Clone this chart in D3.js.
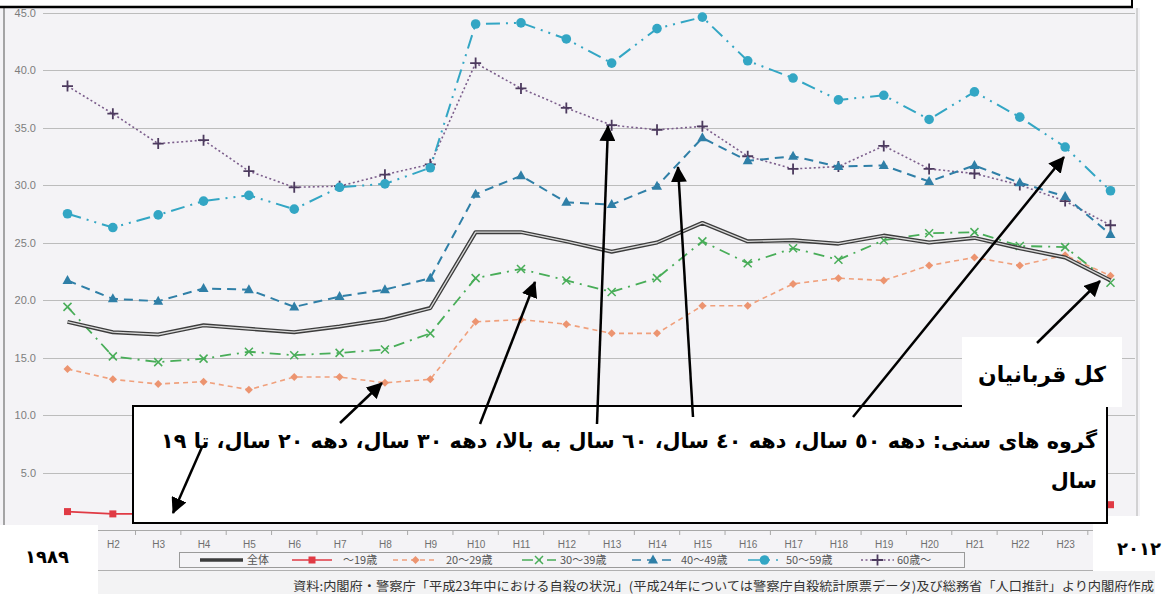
<!DOCTYPE html>
<html><head><meta charset="utf-8">
<script src="https://cdn.jsdelivr.net/npm/d3@7"></script>
<style>body{margin:0;background:#fff;} svg{display:block}</style>
</head><body>
<svg id="c" width="1163" height="594"></svg>
<script>
// ---------- data ----------
const categories = ["H1","H2","H3","H4","H5","H6","H7","H8","H9","H10","H11","H12","H13","H14","H15","H16","H17","H18","H19","H20","H21","H22","H23","H24"];
const xTickLabels = ["H2","H3","H4","H5","H6","H7","H8","H9","H10","H11","H12","H13","H14","H15","H16","H17","H18","H19","H20","H21","H22","H23"];
const yTicks = [0,5,10,15,20,25,30,35,40,45];
const total   = [18.1,17.2,17.0,17.8,17.5,17.2,17.7,18.3,19.3,25.9,25.9,25.1,24.2,25.0,26.7,25.1,25.2,24.9,25.6,25.0,25.4,24.5,23.7,21.7];
const under19 = [1.6,1.4,1.4,1.5,1.4,1.5,1.5,1.6,1.7,2.2,1.9,1.8,1.7,1.8,2.0,1.8,1.9,1.9,1.9,2.0,2.0,2.1,2.1,2.2];
const age20s  = [14.0,13.1,12.7,12.9,12.2,13.3,13.3,12.8,13.1,18.1,18.3,17.9,17.1,17.1,19.5,19.5,21.4,21.9,21.7,23.0,23.7,23.0,23.9,22.1];
const age30s  = [19.4,15.1,14.6,14.9,15.5,15.2,15.4,15.7,17.1,21.9,22.7,21.7,20.7,21.9,25.1,23.2,24.5,23.5,25.2,25.8,25.9,24.7,24.6,21.5];
const age40s  = [21.7,20.1,19.9,21.0,20.9,19.4,20.3,20.9,21.9,29.2,30.8,28.5,28.3,29.9,34.1,32.1,32.5,31.6,31.7,30.3,31.7,30.2,29.0,25.7];
const age50s  = [27.5,26.3,27.4,28.6,29.1,27.9,29.8,30.1,31.5,44.0,44.1,42.7,40.6,43.6,44.6,40.8,39.3,37.4,37.8,35.7,38.1,35.9,33.3,29.5];
const age60p  = [38.6,36.2,33.6,33.9,31.2,29.8,29.9,30.9,31.8,40.6,38.4,36.7,35.2,34.8,35.1,32.5,31.4,31.6,33.4,31.4,31.0,30.0,28.6,26.5];
const legendLabels = ["全体","～19歳","20～29歳","30～39歳","40～49歳","50～59歳","60歳～"];
const annotationLines = ["گروه های سنی: دهه ٥٠ سال،  دهه ٤٠ سال، ٦٠ سال به بالا، دهه ٣٠ سال،  دهه ٢٠ سال، تا ١٩","سال"];
const totalLabel = "کل قربانیان";
const startYear = "١٩٨٩";
const endYear = "٢٠١٢";
const sourceText = "資料:内閣府・警察庁「平成23年中における自殺の状況」(平成24年については警察庁自殺統計原票データ)及び総務省「人口推計」より内閣府作成";

// ---------- setup ----------
const svg = d3.select("#c");
const x = d3.scalePoint().domain(categories).range([67.5, 1110.5]);
const y = d3.scaleLinear().domain([0,45]).range([530, 12.5]);
const step = x.step();

// backgrounds
svg.append("rect").attr("x",0).attr("y",8).attr("width",1140).attr("height",563).attr("fill","#f4f3f6");
svg.append("rect").attr("x",0).attr("y",571).attr("width",1155).attr("height",23).attr("fill","#f3f3f4");

// frame lines
svg.append("line").attr("x1",4).attr("x2",4).attr("y1",8).attr("y2",594).attr("stroke","#8a8a8a").attr("stroke-width",1.5);
svg.append("line").attr("x1",1137).attr("x2",1137).attr("y1",8).attr("y2",571).attr("stroke","#b0b0b0").attr("stroke-width",1);
svg.append("line").attr("x1",4).attr("x2",1139).attr("y1",570.5).attr("y2",570.5).attr("stroke","#b0b0b0").attr("stroke-width",1);

// gridlines
svg.append("g").selectAll("line").data(yTicks.filter(d=>d>0)).join("line")
  .attr("x1",43).attr("x2",1135).attr("y1",d=>Math.round(y(d))+0.5).attr("y2",d=>Math.round(y(d))+0.5)
  .attr("stroke","#bcbcbc").attr("stroke-width",1);

// y axis labels
const yAxis = d3.axisLeft(y).tickValues(yTicks).tickFormat(d3.format(".1f")).tickSize(0).tickPadding(0);
const yg = svg.append("g").attr("transform","translate(36,0)").call(yAxis);
yg.select(".domain").remove();
yg.selectAll("text").attr("font-family","Liberation Sans, Arial, sans-serif").attr("font-size",11).attr("fill","#7d7d7d");

// x axis
const xAxis = d3.axisBottom(x).tickValues(xTickLabels).tickSize(0).tickPadding(0);
const xg = svg.append("g").attr("transform","translate(0,530.5)").call(xAxis);
xg.select(".domain").attr("stroke","#a8a8a8").attr("d","M43,0H1135");
xg.selectAll("text").attr("font-family","Liberation Sans, Arial, sans-serif").attr("font-size",10).attr("fill","#6f6f6f").attr("dy","1.7em");
// boundary ticks
svg.append("g").selectAll("line").data(categories.slice(0,-1)).join("line")
  .attr("x1",d=>x(d)+step/2).attr("x2",d=>x(d)+step/2).attr("y1",530.5).attr("y2",535)
  .attr("stroke","#a8a8a8");

// ---------- series ----------
const line = d3.line().x((d,i)=>x(categories[i])).y(d=>y(d));
const series = [
  {data: age60p, color:"#7c5e8c", mcolor:"#4c3a5e", dash:"2,2.5", w:1.6, marker:"plus"},
  {data: age50s, color:"#33a6c4", mcolor:"#33a6c4", dash:"14,6,2,6,2,6", w:2, marker:"circle"},
  {data: age40s, color:"#2f7fa7", mcolor:"#2f7fa7", dash:"9,6", w:2, marker:"triangle"},
  {data: age30s, color:"#48ad58", mcolor:"#48ad58", dash:"11,6,2,6", w:1.8, marker:"x"},
  {data: age20s, color:"#f0a07c", mcolor:"#ec9470", dash:"5,4", w:1.6, marker:"diamond"},
  {data: under19, color:"#e03a44", mcolor:"#e03a44", dash:null, w:1.6, marker:"square"}
];

function drawMarker(g, type, cx, cy, color){
  if(type==="circle") g.append("circle").attr("cx",cx).attr("cy",cy).attr("r",4.8).attr("fill",color);
  else if(type==="triangle") g.append("path").attr("d",`M${cx},${cy-5.5}L${cx+5},${cy+3.5}L${cx-5},${cy+3.5}Z`).attr("fill",color);
  else if(type==="square") g.append("rect").attr("x",cx-3.5).attr("y",cy-3.5).attr("width",7).attr("height",7).attr("fill",color);
  else if(type==="diamond") g.append("path").attr("d",`M${cx},${cy-4}L${cx+4},${cy}L${cx},${cy+4}L${cx-4},${cy}Z`).attr("fill",color);
  else if(type==="x") g.append("path").attr("d",`M${cx-4},${cy-4}L${cx+4},${cy+4}M${cx-4},${cy+4}L${cx+4},${cy-4}`).attr("stroke",color).attr("stroke-width",1.5).attr("fill","none");
  else if(type==="plus") g.append("path").attr("d",`M${cx-5.5},${cy}L${cx+5.5},${cy}M${cx},${cy-5.5}L${cx},${cy+5.5}`).attr("stroke",color).attr("stroke-width",1.8).attr("fill","none");
}

const sg = svg.append("g");
series.forEach(s=>{
  const p = sg.append("path").attr("d",line(s.data)).attr("fill","none").attr("stroke",s.color).attr("stroke-width",s.w);
  if(s.dash) p.attr("stroke-dasharray",s.dash);
  s.data.forEach((v,i)=>drawMarker(sg, s.marker, x(categories[i]), y(v), s.mcolor));
});
// total (double line)
sg.append("path").attr("d",line(total)).attr("fill","none").attr("stroke","#3c3c3c").attr("stroke-width",4).attr("stroke-linejoin","round");
sg.append("path").attr("d",line(total)).attr("fill","none").attr("stroke","#d9d9d9").attr("stroke-width",1.3).attr("stroke-linejoin","round");

// ---------- legend ----------
const lg = svg.append("g");
lg.append("rect").attr("x",179.5).attr("y",552.5).attr("width",785).attr("height",15).attr("fill","none").attr("stroke","#9a9a9a");
const legendItems = [
  {s:null, x0:200, x1:243, tx:247},
  {s:series[5], x0:292, x1:332, tx:343},
  {s:series[4], x0:393, x1:438, tx:446},
  {s:series[3], x0:522, x1:556, tx:560},
  {s:series[2], x0:632, x1:674, tx:681},
  {s:series[1], x0:748, x1:781, tx:786},
  {s:series[0], x0:861, x1:894, tx:897}
];
legendItems.forEach((it,i)=>{
  const ly = 560;
  if(!it.s){
    lg.append("line").attr("x1",it.x0).attr("x2",it.x1).attr("y1",ly).attr("y2",ly).attr("stroke","#3c3c3c").attr("stroke-width",3.5);
  } else {
    const l = lg.append("line").attr("x1",it.x0).attr("x2",it.x1).attr("y1",ly).attr("y2",ly).attr("stroke",it.s.color).attr("stroke-width",1.6);
    if(it.s.dash) l.attr("stroke-dasharray",it.s.dash);
    drawMarker(lg, it.s.marker, (it.x0+it.x1)/2, ly, it.s.mcolor);
  }
  lg.append("text").attr("x",it.tx).attr("y",ly+4).text(legendLabels[i])
    .attr("font-family","Noto Sans CJK JP, sans-serif").attr("font-size",11).attr("fill","#555");
});

// source
svg.append("text").attr("x",293).attr("y",591).text(sourceText)
  .attr("font-family","Noto Sans CJK JP, sans-serif").attr("font-size",12.5).attr("fill","#333")
  .attr("textLength",861).attr("lengthAdjust","spacingAndGlyphs");

// ---------- overlays ----------
// top black border
svg.append("rect").attr("x",0).attr("y",0).attr("width",1163).attr("height",7).attr("fill","#fff");
svg.append("line").attr("x1",0).attr("x2",1133).attr("y1",7).attr("y2",7).attr("stroke","#000").attr("stroke-width",2.5);
svg.append("line").attr("x1",1132).attr("x2",1132).attr("y1",0).attr("y2",8).attr("stroke","#000").attr("stroke-width",2);

// white boxes for years
svg.append("rect").attr("x",0).attr("y",525).attr("width",98).attr("height",69).attr("fill","#fff");
svg.append("rect").attr("x",1093).attr("y",516).attr("width",70).attr("height",55).attr("fill","#fff");
svg.append("rect").attr("x",1155).attr("y",0).attr("width",8).attr("height",594).attr("fill","#fff");
svg.append("rect").attr("x",1140).attr("y",0).attr("width",23).attr("height",571).attr("fill","#fff");

const boldFont = "DejaVu Sans, sans-serif";
svg.append("text").attr("x",47).attr("y",563).attr("text-anchor","middle").text(startYear)
  .attr("font-family",boldFont).attr("font-weight","bold").attr("font-size",18).attr("letter-spacing",2).attr("fill","#000");
svg.append("text").attr("x",1139).attr("y",555).attr("text-anchor","middle").text(endYear)
  .attr("font-family",boldFont).attr("font-weight","bold").attr("font-size",18).attr("letter-spacing",2).attr("fill","#000");

// annotation box
svg.append("rect").attr("x",133).attr("y",406).attr("width",974).attr("height",117)
  .attr("fill","#fff").attr("stroke","#000").attr("stroke-width",2);
// total label box
svg.append("rect").attr("x",962).attr("y",337).attr("width",160).attr("height",70).attr("fill","#fff");

const t1 = svg.append("text").attr("x",1097).attr("y",448).attr("direction","rtl").attr("text-anchor","start")
  .style("direction","rtl").text(annotationLines[0])
  .attr("font-family",boldFont).attr("font-weight","bold").attr("font-size",20).attr("fill","#000");
const w1 = t1.node().getComputedTextLength();
const fs = 20*937/w1;
t1.attr("font-size",fs);
svg.append("text").attr("x",1097).attr("y",488).attr("direction","rtl").attr("text-anchor","start")
  .style("direction","rtl").text(annotationLines[1])
  .attr("font-family",boldFont).attr("font-weight","bold").attr("font-size",fs).attr("fill","#000");

const t3 = svg.append("text").attr("x",1042).attr("y",382).attr("text-anchor","middle").style("direction","rtl").text(totalLabel)
  .attr("font-family",boldFont).attr("font-weight","bold").attr("font-size",20).attr("fill","#000");
const w3 = t3.node().getComputedTextLength();
t3.attr("font-size",20*128/w3);

// arrows
const defs = svg.append("defs");
defs.append("marker").attr("id","ah").attr("markerUnits","userSpaceOnUse")
  .attr("viewBox","0 0 16 16").attr("refX",15).attr("refY",8).attr("markerWidth",16).attr("markerHeight",16)
  .attr("orient","auto").append("path").attr("d","M0,0L16,8L0,16Z").attr("fill","#000");
const arrows = [
  [340,423,382,383],
  [480,424,535,282],
  [597,424,608,126],
  [693,417,678,167],
  [853,417,1064,157],
  [1037,343,1100,281],
  [202,447,173,513]
];
svg.append("g").selectAll("line").data(arrows).join("line")
  .attr("x1",d=>d[0]).attr("y1",d=>d[1]).attr("x2",d=>d[2]).attr("y2",d=>d[3])
  .attr("stroke","#000").attr("stroke-width",2.5).attr("marker-end","url(#ah)");
</script>
</body></html>
